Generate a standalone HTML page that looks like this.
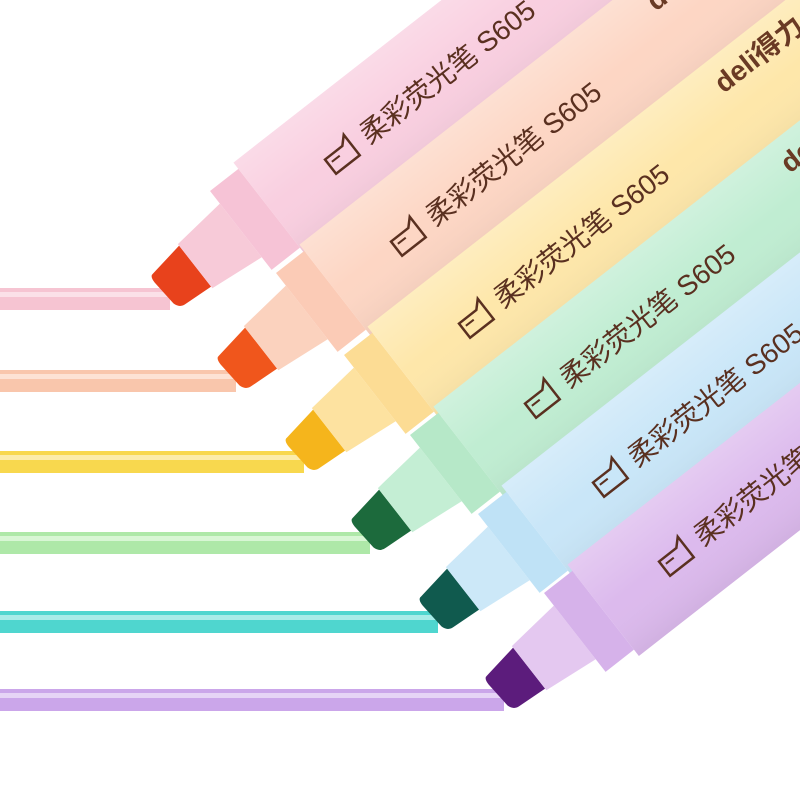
<!DOCTYPE html>
<html><head><meta charset="utf-8"><style>
html,body{margin:0;padding:0;background:#fff;}
svg{display:block}
text{font-family:"Liberation Sans","Noto Sans CJK SC",sans-serif;}
</style></head><body>
<svg width="800" height="800" viewBox="0 0 800 800" xmlns="http://www.w3.org/2000/svg">
<defs>
<linearGradient id="shade" x1="0" y1="0" x2="0" y2="1">
<stop offset="0" stop-color="#fff" stop-opacity="0.25"/>
<stop offset="0.5" stop-color="#fff" stop-opacity="0"/>
<stop offset="1" stop-color="#000" stop-opacity="0.05"/>
</linearGradient>
<g id="icon"><path d="M0,-14 L22,-14 L30,-22 L30,4 L0,4 Z" fill="none" stroke="#5a3020" stroke-width="2.5"/><path d="M4,-8 L14,-8" stroke="#5a3020" stroke-width="2"/></g>
</defs>
<rect x="0" y="288" width="170" height="22" fill="#f6c4d2"/><rect x="0" y="292" width="170" height="5" fill="#fbe0e8"/>
<rect x="0" y="370" width="236" height="22" fill="#f9c6ac"/><rect x="0" y="374" width="236" height="5" fill="#fde2d4"/>
<rect x="0" y="451" width="304" height="22" fill="#f8d84e"/><rect x="0" y="455" width="304" height="5" fill="#fcecaa"/>
<rect x="0" y="532" width="370" height="22" fill="#aee8a8"/><rect x="0" y="536" width="370" height="5" fill="#d8f6d4"/>
<rect x="0" y="611" width="438" height="22" fill="#4fd6cf"/><rect x="0" y="615" width="438" height="5" fill="#a8ece8"/>
<rect x="0" y="689" width="504" height="22" fill="#cba6ea"/><rect x="0" y="693" width="504" height="5" fill="#e6d4f6"/>

<g transform="translate(162,292) rotate(-38)">
<path d="M4,-20 Q0,-20 0,-12 L2,16 Q4,24 12,24 L42,26 L42,-26 Z" fill="#e8421c"/>
<path d="M42,-28 L100,-34 L100,34 L42,28 Z" fill="#f7cad8"/>
<rect x="100" y="-50" width="36" height="100" fill="#f6c3d6"/>
<rect x="136" y="-58" width="700" height="116" fill="#f9cfe0"/>
<rect x="136" y="-58" width="700" height="116" fill="url(#shade)"/>
<use href="#icon" x="210" y="10"/>
<text x="254" y="12" font-size="28" fill="#5a3020">柔彩荧光笔 S605</text>
</g>
<g transform="translate(228,374) rotate(-38)">
<path d="M4,-20 Q0,-20 0,-12 L2,16 Q4,24 12,24 L42,26 L42,-26 Z" fill="#f0561c"/>
<path d="M42,-28 L100,-34 L100,34 L42,28 Z" fill="#fbd2be"/>
<rect x="100" y="-50" width="36" height="100" fill="#fbcbb6"/>
<rect x="136" y="-58" width="700" height="116" fill="#fdd6c4"/>
<rect x="136" y="-58" width="700" height="116" fill="url(#shade)"/>
<use href="#icon" x="210" y="10"/>
<text x="254" y="12" font-size="28" fill="#5a3020">柔彩荧光笔 S605</text>
<text x="560" y="-22" font-size="28" font-weight="bold" fill="#6a3a24">deli</text>
</g>
<g transform="translate(296,456) rotate(-38)">
<path d="M4,-20 Q0,-20 0,-12 L2,16 Q4,24 12,24 L42,26 L42,-26 Z" fill="#f5b51c"/>
<path d="M42,-28 L100,-34 L100,34 L42,28 Z" fill="#fde2a0"/>
<rect x="100" y="-50" width="36" height="100" fill="#fcdc94"/>
<rect x="136" y="-58" width="700" height="116" fill="#fee7aa"/>
<rect x="136" y="-58" width="700" height="116" fill="url(#shade)"/>
<use href="#icon" x="210" y="10"/>
<text x="254" y="12" font-size="28" fill="#5a3020">柔彩荧光笔 S605</text>
<text x="560" y="-22" font-size="28" font-weight="bold" fill="#6a3a24">deli得力</text>
</g>
<g transform="translate(362,536) rotate(-38)">
<path d="M4,-20 Q0,-20 0,-12 L2,16 Q4,24 12,24 L42,26 L42,-26 Z" fill="#1c6a3c"/>
<path d="M42,-28 L100,-34 L100,34 L42,28 Z" fill="#c4eed4"/>
<rect x="100" y="-50" width="36" height="100" fill="#b6e8c8"/>
<rect x="136" y="-58" width="700" height="116" fill="#c0edd2"/>
<rect x="136" y="-58" width="700" height="116" fill="url(#shade)"/>
<use href="#icon" x="210" y="10"/>
<text x="254" y="12" font-size="28" fill="#5a3020">柔彩荧光笔 S605</text>
<text x="560" y="-22" font-size="28" font-weight="bold" fill="#6a3a24">deli</text>
</g>
<g transform="translate(430,615) rotate(-38)">
<path d="M4,-20 Q0,-20 0,-12 L2,16 Q4,24 12,24 L42,26 L42,-26 Z" fill="#105a4e"/>
<path d="M42,-28 L100,-34 L100,34 L42,28 Z" fill="#cce8f8"/>
<rect x="100" y="-50" width="36" height="100" fill="#bfe2f6"/>
<rect x="136" y="-58" width="700" height="116" fill="#c9e6f8"/>
<rect x="136" y="-58" width="700" height="116" fill="url(#shade)"/>
<use href="#icon" x="210" y="10"/>
<text x="254" y="12" font-size="28" fill="#5a3020">柔彩荧光笔 S605</text>
</g>
<g transform="translate(496,694) rotate(-38)">
<path d="M4,-20 Q0,-20 0,-12 L2,16 Q4,24 12,24 L42,26 L42,-26 Z" fill="#5c1c7c"/>
<path d="M42,-28 L100,-34 L100,34 L42,28 Z" fill="#e4c8f0"/>
<rect x="100" y="-50" width="36" height="100" fill="#d6b2ea"/>
<rect x="136" y="-58" width="700" height="116" fill="#dcbaed"/>
<rect x="136" y="-58" width="700" height="116" fill="url(#shade)"/>
<use href="#icon" x="210" y="10"/>
<text x="254" y="12" font-size="28" fill="#5a3020">柔彩荧光笔 S605</text>
</g>
</svg>
</body></html>
